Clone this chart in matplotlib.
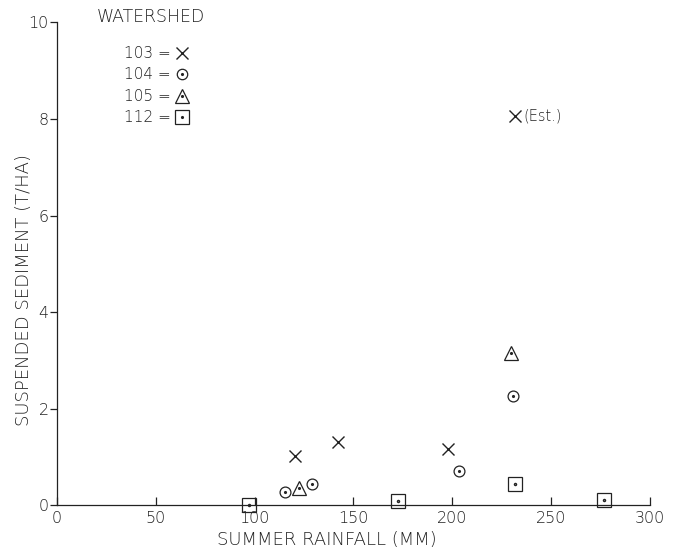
import matplotlib
matplotlib.use("Agg")
import matplotlib.pyplot as plt
from matplotlib.lines import Line2D
from matplotlib.legend_handler import HandlerTuple

# --- data ---
ws103_x = [120.5, 142.3, 197.8]
ws103_y = [1.02, 1.31, 1.17]
ws103_est_x = [232.0]
ws103_est_y = [8.05]
ws104_x = [115.5, 128.9, 203.5, 231.0]
ws104_y = [0.28, 0.45, 0.71, 2.27]
ws105_x = [122.7, 229.6]
ws105_y = [0.36, 3.15]
ws112_x = [97.0, 172.7, 232.0, 277.0]
ws112_y = [0.01, 0.10, 0.45, 0.12]
x_ticks = [0, 50, 100, 150, 200, 250, 300]
y_ticks = [0, 2, 4, 6, 8, 10]
legend_title = "WATERSHED"
legend_labels = ["103 =", "104 =", "105 =", "112 ="]

plt.rcParams['font.family'] = ['DejaVu Sans']
plt.rcParams['font.weight'] = 'light'
plt.rcParams['axes.labelweight'] = 'light'
ink = '#222222'

fig = plt.figure(figsize=(6.84, 5.53), dpi=100)
ax = fig.add_axes([0.0833, 0.0859, 0.8667, 0.874])
ax.set_xlim(0, 300)
ax.set_ylim(0, 10)
for s in ['top', 'right']:
    ax.spines[s].set_visible(False)
for s in ['left', 'bottom']:
    ax.spines[s].set_color(ink)
    ax.spines[s].set_linewidth(0.9)

ax.set_xticks(x_ticks)
ax.set_yticks(y_ticks)
ax.set_xticklabels([str(v) for v in x_ticks])
ax.set_yticklabels([str(v) for v in y_ticks])
ax.tick_params(axis='both', length=6, width=0.9, color=ink,
               labelsize=11.5, labelcolor=ink)
ax.tick_params(axis='x', direction='in', pad=4)
ax.tick_params(axis='y', direction='out', length=5, pad=1)

ax.set_xlabel("SUMMER RAINFALL (MM)", fontsize=13, color=ink, fontweight='light')
ax.xaxis.set_label_coords(0.455, -0.053)
ax.set_ylabel("SUSPENDED SEDIMENT (T/HA)", fontsize=13, color=ink, fontweight='light')
ax.yaxis.set_label_coords(-0.040, 0.446)

mk = dict(linestyle='none', color=ink, markerfacecolor='none', clip_on=False)
ax.plot(ws103_x, ws103_y, marker='x', markersize=8, markeredgewidth=1.0, **mk)
ax.plot(ws103_est_x, ws103_est_y, marker='x', markersize=8, markeredgewidth=1.0, **mk)
ax.annotate("(Est.)", (ws103_est_x[0], ws103_est_y[0]), xytext=(6, 0),
            textcoords='offset points', va='center', ha='left', fontsize=10.5, color=ink)

ax.plot(ws104_x, ws104_y, marker='o', markersize=7.8, markeredgewidth=0.9, **mk)
ax.plot(ws104_x, ws104_y, marker='.', markersize=2.5, **mk)
ax.plot(ws105_x, ws105_y, marker='^', markersize=10.5, markeredgewidth=0.9, **mk)
ax.plot(ws105_x, ws105_y, marker='.', markersize=2.5, **mk)
ax.plot(ws112_x, ws112_y, marker='s', markersize=10.5, markeredgewidth=0.9, **mk)
ax.plot(ws112_x, ws112_y, marker='.', markersize=3, **mk)

dot = dict(linestyle='none', color=ink, marker='.', markersize=2.5)
hx = Line2D([], [], marker='x', markersize=8, markeredgewidth=1.0, linestyle='none', color=ink)
hc = (Line2D([], [], marker='o', markersize=7.5, markeredgewidth=0.9, linestyle='none', color=ink, markerfacecolor='none'),
      Line2D([], [], **dot))
ht = (Line2D([], [], marker='^', markersize=10.5, markeredgewidth=0.9, linestyle='none', color=ink, markerfacecolor='none'),
      Line2D([], [], **dot))
hs = (Line2D([], [], marker='s', markersize=10, markeredgewidth=0.9, linestyle='none', color=ink, markerfacecolor='none'),
      Line2D([], [], **dot))

ax.text(0.0675, 1.010, legend_title, transform=ax.transAxes, ha='left', va='center',
        fontsize=12.5, color=ink, clip_on=False)
leg = ax.legend([hx, hc, ht, hs], legend_labels,
                markerfirst=False, frameon=False, loc='upper left',
                bbox_to_anchor=(0.0894, 0.979), fontsize=11,
                handlelength=1.0, handletextpad=0.25, labelspacing=0.42,
                handler_map={tuple: HandlerTuple(ndivide=1)})
for t in leg.get_texts():
    t.set_color(ink)

fig.savefig("out.png", dpi=100)
